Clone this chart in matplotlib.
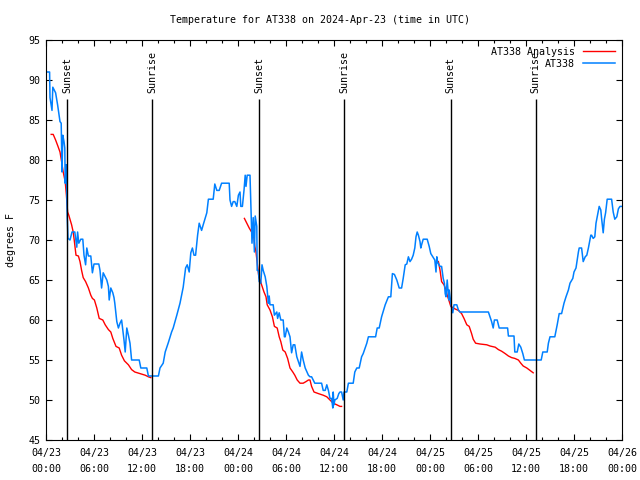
import matplotlib
matplotlib.use("Agg")
import matplotlib.pyplot as plt
from matplotlib.ticker import MultipleLocator, FixedLocator

plt.rcParams['font.family'] = ['DejaVu Sans Mono']

# hours since 2024-04-23 00:00 UTC, temperature in degrees F
obs_hours = [0.0, 0.45, 0.5, 0.75, 0.85, 1.2, 1.45, 1.75, 1.9, 2.0, 2.1, 2.25, 2.35, 2.4, 2.5, 2.55,
             2.6, 2.65, 2.75, 3.0, 3.25, 3.6, 3.85, 3.95, 4.1, 4.35, 4.6, 4.75, 4.95, 5.1, 5.3, 5.6,
             5.8, 6.0, 6.35, 6.6, 6.75, 6.95, 7.15, 7.4, 7.6, 7.8, 7.9, 8.1, 8.35, 8.5, 8.6, 8.85,
             9.05, 9.25, 9.45, 9.6, 9.75, 9.9, 10.1, 10.3, 10.5, 10.7, 11.65, 11.85, 12.6, 12.8,
             14.05, 14.25, 14.65, 14.9, 15.3, 15.7, 15.9, 16.35, 16.75, 17.15, 17.45, 17.65, 17.9,
             18.1, 18.3, 18.5, 18.7, 18.95, 19.15, 19.45, 19.65, 20.1, 20.3, 20.9, 21.1, 21.35,
             21.65, 21.95, 22.9, 23.0, 23.2, 23.4, 23.6, 23.85, 24.05, 24.25, 24.35, 24.55, 24.75,
             24.9, 25.0, 25.15, 25.5, 25.6, 25.75, 25.9, 26.05, 26.15, 26.35, 26.4, 26.55, 26.65,
             26.85, 27.0, 27.15, 27.4, 27.6, 27.8, 27.9, 28.0, 28.4, 28.55, 28.85, 28.95, 29.15,
             29.35, 29.65, 29.8, 29.9, 30.1, 30.3, 30.5, 30.7, 30.9, 31.1, 31.35, 31.55, 31.75,
             31.95, 32.15, 32.4, 32.8, 33.0, 33.2, 33.4, 33.6, 34.45, 34.65, 34.9, 35.1, 35.3,
             35.5, 35.7, 35.85, 35.9, 36.0, 36.1, 36.4, 36.6, 36.75, 36.95, 37.15, 37.25, 37.6,
             37.8, 38.4, 38.6, 38.85, 39.15, 39.45, 39.65, 40.1, 40.3, 41.2, 41.4, 41.65, 41.95,
             42.4, 42.8, 43.1, 43.3, 43.55, 43.85, 44.15, 44.45, 44.65, 44.9, 45.1, 45.3, 45.5,
             45.7, 45.9, 46.1, 46.25, 46.4, 46.55, 46.75, 46.85, 46.95, 47.15, 47.65, 47.9, 48.1,
             48.35, 48.6, 48.75, 48.85, 48.95, 49.25, 49.45, 49.65, 49.8, 49.9, 50.0, 50.15, 50.35,
             50.4, 50.6, 50.7, 50.85, 51.0, 51.35, 51.55, 51.75, 55.3, 55.5, 55.7, 55.9, 56.05,
             56.4, 56.65, 57.7, 57.8, 58.5, 58.6, 58.9, 59.1, 59.35, 59.6, 59.8, 61.9, 62.1, 62.65,
             62.8, 63.0, 63.6, 63.9, 64.15, 64.45, 64.75, 65.0, 65.3, 65.5, 65.85, 66.0, 66.25,
             66.55, 66.65, 66.95, 67.15, 67.4, 67.6, 67.8, 68.1, 68.2, 68.4, 68.6, 68.75, 68.9,
             69.15, 69.35, 69.45, 69.65, 69.8, 69.95, 70.15, 70.7, 70.9, 71.1, 71.35, 71.55, 71.75,
             71.95]
obs_temps = [91.0, 91.0, 87.8, 86.2, 89.1, 88.4, 86.9, 84.8, 84.6, 78.5, 83.1, 82.3, 81.5, 77.1, 78.8, 79.4,
             75.6, 72.9, 70.2, 70.0, 71.0, 71.0, 69.1, 71.0, 69.6, 70.1, 70.1, 68.1, 66.9, 69.0, 68.0, 68.0,
             65.9, 67.0, 67.0, 67.0, 66.2, 64.0, 65.9, 65.4, 65.0, 64.2, 62.5, 64.0, 63.4, 62.8, 62.1, 59.8,
             59.0, 59.6, 60.0, 58.8, 57.5, 56.0, 59.0, 58.1, 57.1, 55.0, 55.0, 54.0, 54.0, 53.0,
             53.0, 54.0, 54.6, 56.0, 57.2, 58.5, 59.0, 60.6, 62.1, 64.1, 66.5, 66.9, 66.0,
             68.4, 69.0, 68.1, 68.1, 70.6, 72.1, 71.2, 71.9, 73.4, 75.1, 75.1, 77.0, 76.2,
             76.2, 77.1, 77.1, 75.0, 74.2, 74.8, 74.8, 74.2, 75.6, 76.0, 74.2, 74.2, 76.2,
             78.1, 76.7, 78.1, 78.1, 74.6, 69.6, 72.8, 68.5, 73.0, 71.7, 66.2, 66.2, 64.8,
             64.6, 66.9, 66.2, 65.4, 64.2, 62.1, 63.0, 61.9, 61.9, 60.6, 61.0, 60.2, 60.9,
             60.0, 60.0, 57.9, 57.9, 59.0, 58.5, 57.9, 55.9, 56.9, 56.9, 55.4, 54.8, 54.2,
             56.0, 55.0, 54.0, 53.1, 52.9, 52.9, 52.5, 52.1, 52.1, 51.2, 51.2, 51.9, 51.2,
             50.2, 50.2, 49.0, 51.0, 49.4, 50.0, 50.2, 50.8, 51.0, 51.0, 50.0, 51.0, 51.0,
             52.1, 52.1, 53.5, 54.0, 54.0, 55.4, 55.8, 57.1, 57.9, 57.9, 59.0, 59.0, 60.4,
             61.9, 62.9, 62.9, 65.8, 65.7, 65.0, 64.0, 64.0, 65.2, 66.9, 67.0, 67.9, 67.3,
             67.6, 68.1, 69.0, 70.4, 71.0, 70.6, 69.8, 69.0, 69.4, 70.1, 70.1, 69.2, 68.3,
             67.9, 67.5, 66.0, 67.9, 67.2, 66.7, 66.7, 65.2, 64.6, 63.3, 62.9, 65.0, 62.5,
             63.75, 62.1, 61.5, 60.9, 61.9, 61.9, 61.25, 61.0, 61.0, 60.4, 59.8, 59.0, 60.0,
             60.0, 59.0, 59.0, 58.0, 58.0, 56.0, 56.0, 57.0, 56.6, 55.8, 55.0, 55.0, 56.0, 56.0,
             57.1, 57.9, 57.9, 59.4, 60.8, 60.8, 62.1, 62.9, 63.75, 64.6, 65.2, 66.0, 66.5,
             68.5, 69.0, 69.0, 67.3, 67.9, 68.1, 69.0, 70.6, 70.6, 70.2, 70.4, 72.1, 72.9,
             74.2, 73.75, 72.7, 70.9, 72.6, 73.4, 75.1, 75.1, 73.5, 72.6, 72.9, 73.9, 74.2,
             74.2]

# analysis curve, three night-time pieces
ana1_hours = [0.65, 0.9, 1.2, 1.5, 1.75, 1.95, 2.15, 2.4, 2.55, 2.7, 2.85, 3.2, 3.4, 3.55, 3.75, 4.05,
              4.25, 4.45, 4.65, 4.95, 5.3, 5.6, 5.8, 6.05, 6.35, 6.65, 7.1, 7.4, 7.8, 8.1, 8.35, 8.75,
              9.15, 9.45, 9.8, 10.3, 10.7, 11.1, 11.75, 12.4, 12.8, 13.1]
ana1_temps = [83.2, 83.2, 82.5, 81.7, 81.0, 79.8, 78.5, 77.3, 75.6, 73.5, 73.1, 71.9, 71.0, 69.8, 68.1, 68.0,
              67.3, 66.2, 65.3, 64.8, 64.0, 63.1, 62.7, 62.5, 61.5, 60.2, 60.0, 59.4, 58.8, 58.5, 57.7, 56.7,
              56.5, 55.6, 54.9, 54.4, 53.8, 53.5, 53.3, 53.1, 52.9, 52.8]
ana2_hours = [24.8, 25.1, 25.4, 25.7, 26.0, 26.1, 26.25, 26.35, 26.5, 26.6, 26.75, 26.95, 27.25, 27.5,
              27.65, 28.0, 28.3, 28.55, 28.9, 29.15, 29.35, 29.6, 29.9, 30.2, 30.5, 30.85, 31.1, 31.4,
              31.75, 32.15, 32.5, 32.8, 33.0, 33.2, 33.5, 34.05, 34.65, 35.1, 35.5, 35.9, 36.35, 36.75,
              36.95]
ana2_temps = [72.7, 72.1, 71.5, 71.0, 70.2, 69.2, 68.5, 67.6, 66.3, 65.4, 65.0, 64.4, 63.5, 62.9,
              61.9, 61.25, 60.4, 59.2, 59.0, 57.9, 57.3, 56.25, 56.0, 55.2, 54.0, 53.5, 53.1, 52.5,
              52.1, 52.1, 52.3, 52.5, 52.5, 51.7, 51.0, 50.8, 50.6, 50.4, 50.0, 49.6, 49.4, 49.2,
              49.2]
ana3_hours = [49.05, 49.25, 49.45, 49.75, 50.0, 50.15, 50.35, 50.6, 51.1, 51.55, 51.95, 52.25, 52.6,
              52.9, 53.2, 53.4, 53.7, 54.25, 55.1, 55.5, 56.15, 56.55, 56.95, 57.4, 57.8, 58.2, 58.6,
              59.05, 59.35, 59.65, 60.1, 60.5, 60.9]
ana3_temps = [67.3, 66.25, 64.8, 64.4, 63.75, 63.1, 62.5, 61.7, 61.4, 61.2, 60.8, 60.2, 59.4,
              59.2, 58.3, 57.6, 57.1, 57.0, 56.9, 56.75, 56.6, 56.3, 56.1, 55.8, 55.5, 55.3, 55.2,
              55.0, 54.6, 54.25, 54.0, 53.7, 53.4]

sun_hours = [2.66, 13.3, 26.67, 37.3, 50.6, 61.2]
sun_labels = ["Sunset", "Sunrise", "Sunset", "Sunrise", "Sunset", "Sunrise"]

tick_labels = ["04/23\n00:00", "04/23\n06:00", "04/23\n12:00", "04/23\n18:00",
               "04/24\n00:00", "04/24\n06:00", "04/24\n12:00", "04/24\n18:00",
               "04/25\n00:00", "04/25\n06:00", "04/25\n12:00", "04/25\n18:00",
               "04/26\n00:00"]

fig = plt.figure(figsize=(6.4, 4.8), dpi=100)
ax = fig.add_axes([46 / 640, 40 / 480, 576 / 640, 400 / 480])

ax.plot(ana1_hours, ana1_temps, color="#ff0000", lw=1.0, label="AT338 Analysis")
ax.plot(ana2_hours, ana2_temps, color="#ff0000", lw=1.0)
ax.plot(ana3_hours, ana3_temps, color="#ff0000", lw=1.0)
ax.plot(obs_hours, obs_temps, color="#0080ff", lw=1.1, label="AT338")

# sunrise / sunset markers
for h, lab in zip(sun_hours, sun_labels):
    ax.vlines(h, 45, 87.6, color="black", lw=1.0)
    ax.text(h, 88.4, lab, rotation=90, ha="center", va="bottom", fontsize=7.2)

ax.set_xlim(0, 72)
ax.set_ylim(45, 95)
ax.xaxis.set_major_locator(FixedLocator(list(range(0, 73, 6))))
ax.xaxis.set_minor_locator(MultipleLocator(2))
ax.set_xticklabels(tick_labels, linespacing=1.75)
ax.yaxis.set_major_locator(MultipleLocator(5))
ax.tick_params(which="both", direction="in", top=True, right=True, labelsize=7.2, width=0.8)
ax.tick_params(which="major", length=4.5, pad=4)
ax.tick_params(axis="x", which="major", pad=6)
ax.tick_params(which="minor", length=2.5)
for sp in ax.spines.values():
    sp.set_linewidth(0.8)

ax.set_ylabel("degrees F", fontsize=7.2, labelpad=9)
fig.text(0.5, 1 - 20 / 480, "Temperature for AT338 on 2024-Apr-23 (time in UTC)",
         ha="center", va="center", fontsize=7.2)

ax.legend(loc="upper right", markerfirst=False, frameon=False, fontsize=7.2,
          handlelength=3.2, handletextpad=0.8, labelspacing=0.2,
          borderaxespad=0.3)

fig.savefig("out.png", dpi=100)
